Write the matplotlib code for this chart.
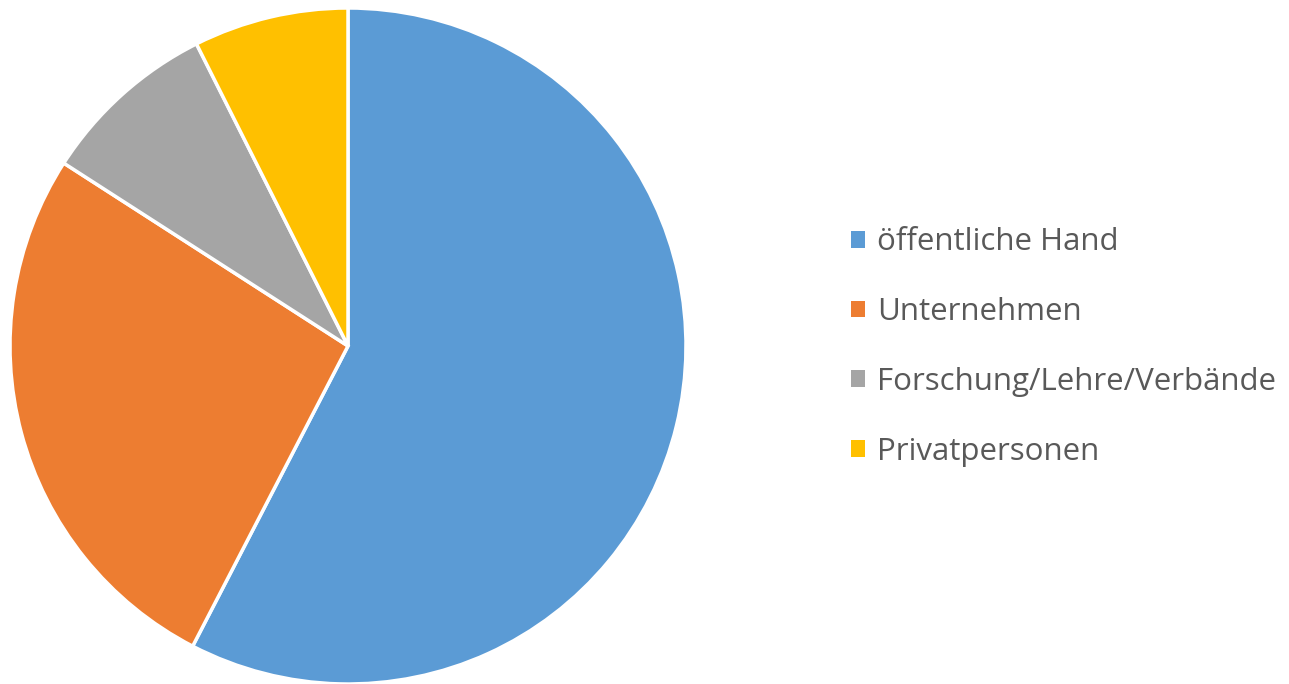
import matplotlib.pyplot as plt
from matplotlib.patches import Patch

# Shares of each group (percent)
labels = ["öffentliche Hand", "Unternehmen", "Forschung/Lehre/Verbände", "Privatpersonen"]
shares = [57.6, 26.5, 8.5, 7.4]
colors = ["#5b9bd5", "#ed7d31", "#a5a5a5", "#ffc000"]

plt.rcParams["font.family"] = ["Open Sans", "DejaVu Sans"]

fig = plt.figure(figsize=(12.89, 6.84), dpi=100)
ax = fig.add_axes([10 / 1289, 0, 676 / 1289, 676 / 684])
ax.pie(shares,
       colors=colors,
       startangle=90,
       counterclock=False,
       wedgeprops={"edgecolor": "white", "linewidth": 2.5})
ax.set_xlim(-1, 1)
ax.set_ylim(-1, 1)
ax.set_aspect("equal")

handles = [Patch(facecolor=c, edgecolor="none") for c in colors]
fig.legend(handles, labels,
           loc="center left",
           bbox_to_anchor=(823 / 1289, 1 - 347 / 684),
           frameon=False,
           fontsize=22.5,
           labelcolor="#595959",
           handlelength=0.44,
           handleheight=0.44,
           handletextpad=0.4,
           labelspacing=1.27)

fig.savefig("out.png", dpi=100)
